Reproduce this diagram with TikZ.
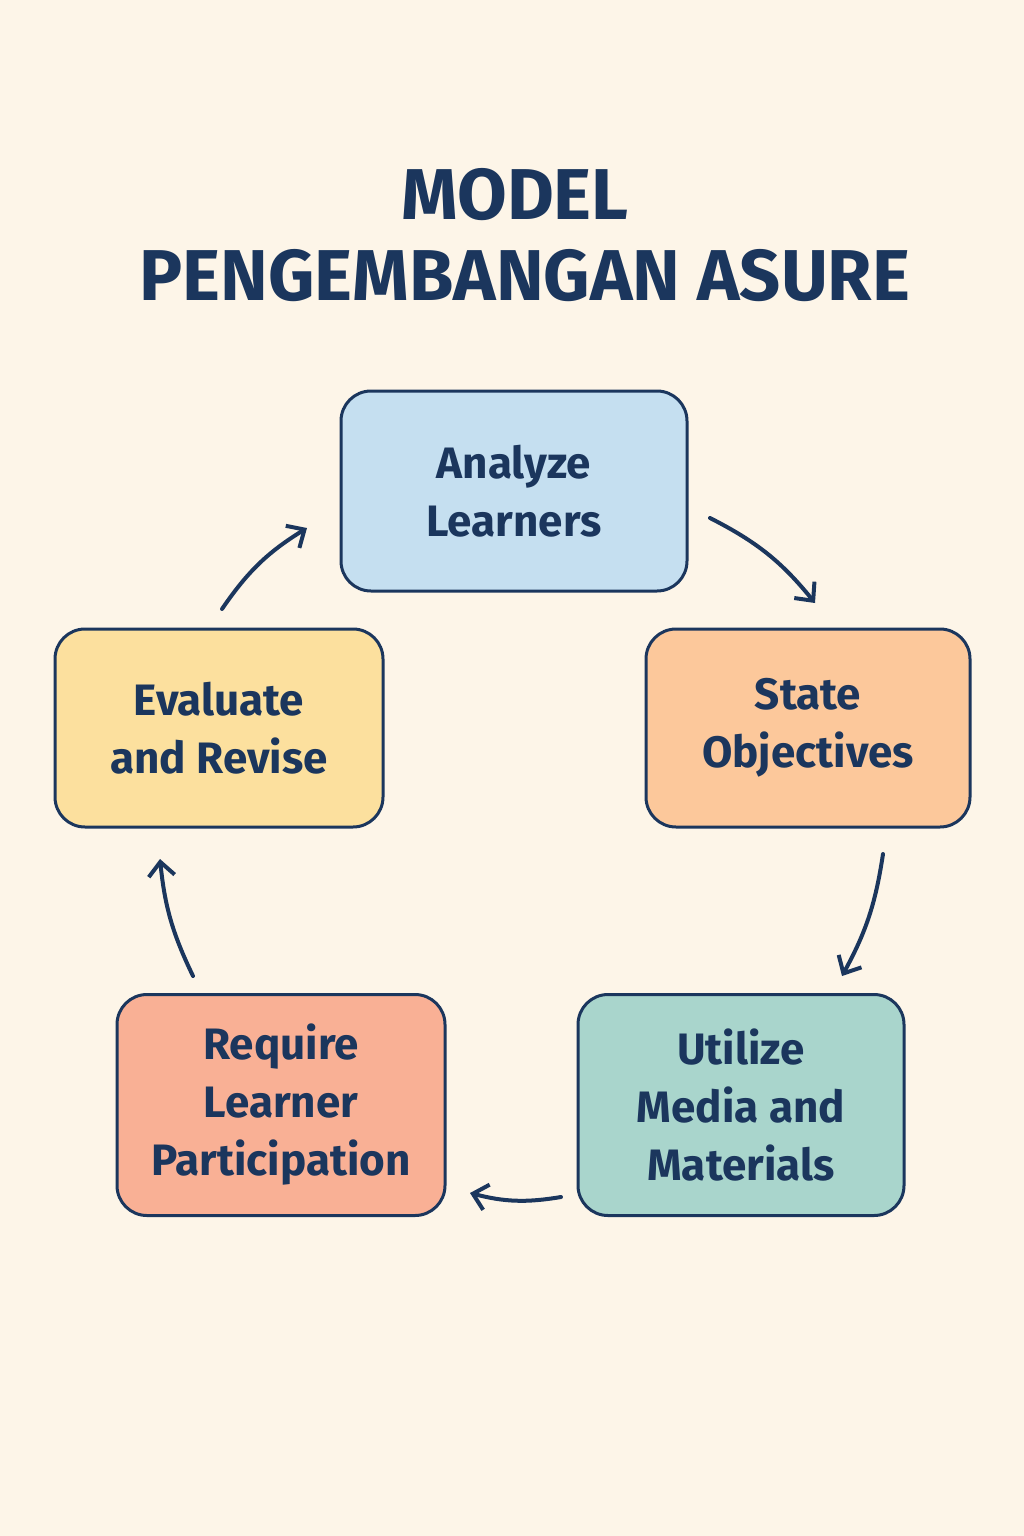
\documentclass[tikz,border=0pt]{standalone}
\usepackage{fontspec}
\setmainfont{Fira Sans}
\usetikzlibrary{arrows.meta}
\definecolor{bg}{HTML}{FDF5E8}
\definecolor{navy}{HTML}{1B365D}
\definecolor{cA}{HTML}{C5DFF0}
\definecolor{cS}{HTML}{FCC89B}
\definecolor{cU}{HTML}{A9D5CC}
\definecolor{cR}{HTML}{F9B095}
\definecolor{cE}{HTML}{FCE09E}
\tikzset{
 stage/.style={draw=navy,line width=3pt,rounded corners=30pt,inner sep=0pt,
   align=center,text=navy,font=\fontsize{44}{58}\selectfont\bfseries},
 flow/.style={draw=navy,line width=4pt,line cap=round,-{Straight Barb[length=14pt,width=26pt,line width=4pt]}},
 title/.style={text=navy,font=\fontsize{72}{82}\selectfont\bfseries,align=center}
}
\begin{document}
\begin{tikzpicture}[x=1pt,y=-1pt]
\fill[bg] (0,0) rectangle (1024,1536);
\useasboundingbox (0,0) rectangle (1024,1536);
\node[title] (t1) at (515,195) {MODEL};
\node[title] (t2) at (525,276) {PENGEMBANGAN ASURE};
\node[stage,fill=cA,minimum width=346pt,minimum height=200pt] (A) at (514,491) {Analyze\\Learners};
\node[stage,fill=cS,minimum width=324pt,minimum height=198pt] (S) at (808,728) {State\\Objectives};
\node[stage,fill=cU,minimum width=326pt,minimum height=221pt] (U) at (741,1105) {Utilize\\Media and\\Materials};
\node[stage,fill=cR,minimum width=328pt,minimum height=221pt] (R) at (281,1105) {Require\\Learner\\Participation};
\node[stage,fill=cE,minimum width=328pt,minimum height=198pt] (E) at (219,728) {Evaluate\\and Revise};
\coordinate (a1) at (710,518); \coordinate (a2) at (815,603);
\coordinate (b1) at (883,854); \coordinate (b2) at (842,976);
\coordinate (c1) at (561,1197); \coordinate (c2) at (470,1193);
\coordinate (d1) at (193,976); \coordinate (d2) at (160,859);
\coordinate (e1) at (222,609); \coordinate (e2) at (307,528);
\draw[flow] (a1) to[bend left=12] (a2);
\draw[flow] (b1) to[bend left=10] (b2);
\draw[flow] (c1) to[bend left=12] (c2);
\draw[flow] (d1) to[bend left=10] (d2);
\draw[flow] (e1) to[bend left=12] (e2);
\end{tikzpicture}
\end{document}
